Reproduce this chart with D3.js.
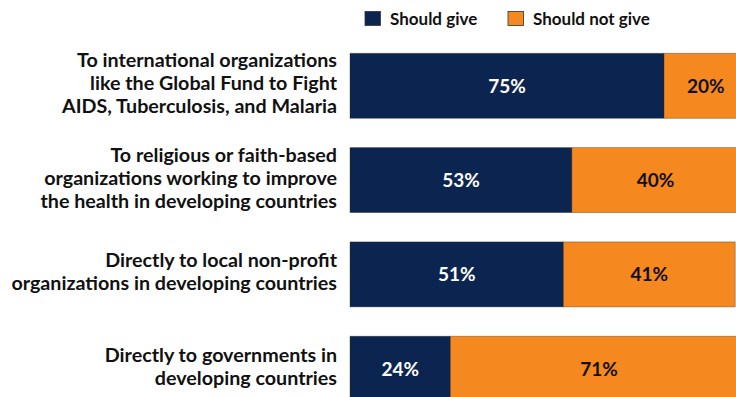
<!DOCTYPE html>
<html>
<head>
<meta charset="utf-8">
<script src="https://cdn.jsdelivr.net/npm/d3@7"></script>
<style>
  html, body { margin: 0; padding: 0; background: #fff; }
  svg { display: block; }
  text { font-family: Lato, "Open Sans", sans-serif; font-weight: 700; }
</style>
</head>
<body>
<svg id="chart" width="736" height="397"></svg>
<script>
// Where should donor money for global health go?
const categories = [
  ["To international organizations", "like the Global Fund to Fight", "AIDS, Tuberculosis, and Malaria"],
  ["To religious or faith-based", "organizations working to improve", "the health in developing countries"],
  ["Directly to local non-profit", "organizations in developing countries"],
  ["Directly to governments in", "developing countries"]
];
const seriesNames = ["Should give", "Should not give"];
const shouldGive = [75, 53, 51, 24];
const shouldNotGive = [20, 40, 41, 71];
const colors = ["#0b2550", "#f5881f"];
const labelColors = ["#ffffff", "#111111"];

const W = 736, H = 397;
const svg = d3.select("#chart");

const rows = categories.map((lines, i) => ({
  key: i, lines, values: [shouldGive[i], shouldNotGive[i]]
}));

const x = d3.scaleLinear().domain([0, 100]).range([350, 768.7]);
const y = d3.scaleBand()
  .domain(rows.map(d => d.key))
  .range([53.3, 401.2])
  .paddingInner(0.311)
  .paddingOuter(0);

// stacked segments
const stack = d3.stack().keys([0, 1]).value((d, k) => d.values[k]);
const layers = stack(rows);

const plot = svg.append("g");
layers.forEach((layer, k) => {
  const g = plot.append("g");
  g.selectAll("rect")
    .data(layer)
    .join("rect")
    .attr("x", d => x(d[0]))
    .attr("y", d => y(d.data.key))
    .attr("width", d => x(d[1]) - x(d[0]))
    .attr("height", y.bandwidth())
    .attr("fill", colors[k])
    .attr("stroke", "rgba(60,40,20,0.45)")
    .attr("stroke-width", 0.8);
  g.selectAll("text")
    .data(layer)
    .join("text")
    .attr("x", d => (x(d[0]) + x(d[1])) / 2)
    .attr("y", d => y(d.data.key) + y.bandwidth() / 2 + 7)
    .attr("text-anchor", "middle")
    .attr("font-size", 19)
    .attr("fill", labelColors[k])
    .text(d => d.data.values[k] + "%");
});

// category labels, right-aligned beside the bars
const lineH = 23;
const labels = svg.append("g");
rows.forEach(r => {
  const cy = y(r.key) + y.bandwidth() / 2 + 4.5;
  const n = r.lines.length;
  const t = labels.append("text")
    .attr("text-anchor", "end")
    .attr("font-size", 19.7)
    .attr("fill", "#111");
  r.lines.forEach((line, i) => {
    t.append("tspan")
      .attr("x", 337)
      .attr("y", cy + (i - (n - 1) / 2) * lineH)
      .text(line);
  });
});

// legend
const legendX = [365, 508];
const legend = svg.append("g");
seriesNames.forEach((name, k) => {
  legend.append("rect")
    .attr("x", legendX[k]).attr("y", 11.5)
    .attr("width", 15.5).attr("height", 14)
    .attr("fill", colors[k])
    .attr("stroke", "#333").attr("stroke-width", 0.8);
  legend.append("text")
    .attr("x", legendX[k] + 25).attr("y", 25)
    .attr("font-size", 17)
    .attr("fill", "#111")
    .text(name);
});
</script>
</body>
</html>
